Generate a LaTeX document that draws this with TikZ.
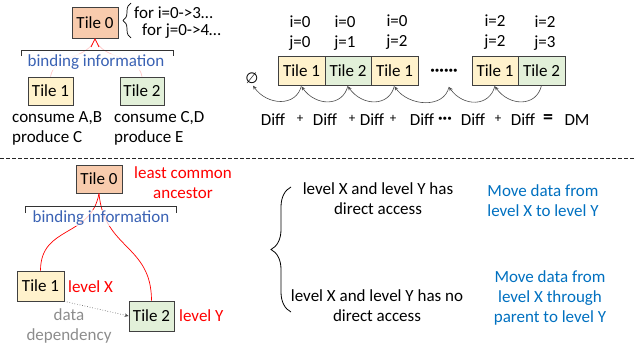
\documentclass[tikz,border=0pt]{standalone}
\usepackage{fontspec}
\setmainfont{Carlito}
\newfontfamily\symfont{DejaVu Sans}
\usetikzlibrary{arrows.meta,decorations.pathreplacing}
\definecolor{peach}{HTML}{F8CBAD}
\definecolor{lightyellow}{HTML}{FFF2CC}
\definecolor{lightgreen}{HTML}{E2F0D9}
\definecolor{bindblue}{HTML}{3A62B4}
\definecolor{moveblue}{HTML}{0070C0}
\definecolor{depgray}{HTML}{8C8C8C}
\tikzset{
  tile/.style={draw=black!75, line width=0.8pt, inner sep=0pt, minimum height=30pt},
  lbl/.style={inner sep=0pt, align=center},
  bind/.style={inner sep=1pt, text=bindblue, fill=white, fill opacity=0.75, text opacity=1},
  hop/.style={draw=black!70, line width=0.6pt, -{Stealth[length=4pt,width=3.5pt]}},
}
\begin{document}
\begin{tikzpicture}[x=1pt, y=-1pt, font=\fontsize{17}{20}\selectfont]
      \useasboundingbox (0,0) rectangle (634,356);
      % upper left: tile tree
      \node[tile, fill=peach, minimum width=46pt, minimum height=31pt] (t0) at (95,23) {Tile 0};
      \node[tile, fill=lightyellow, minimum width=45pt, minimum height=28pt] (t1) at (50.5,91) {Tile 1};
      \node[tile, fill=lightgreen, minimum width=44pt, minimum height=28pt] (t2) at (142,91) {Tile 2};
      \begin{scope}[red!22, line width=0.7pt]
        \draw (t0.south) to[out=-110, in=80] (t1.north);
        \draw (t0.south) to[out=-70, in=100] (t2.north);
      \end{scope}
      \draw[red, line width=0.7pt] (91,47) -- (t0.south) -- (99,47);
      \draw[black!80, line width=0.7pt] (21,56) -- (21,50) -- (173,50) -- (173,56);
      \node[bind] (bind) at (96,62) {binding information};
      \draw[decorate, decoration={brace, amplitude=8pt}, line width=0.7pt] (131,38) -- (131,3);
      \node[lbl, anchor=west] (fori) at (134,13) {for i=0->3…};
      \node[lbl, anchor=west] (forj) at (142,31) {for j=0->4…};
      \node[lbl, anchor=west] (c1) at (12,118) {consume A,B};
      \node[lbl, anchor=west] (p1) at (12,138) {produce C};
      \node[lbl, anchor=west] (c2) at (114,118) {consume C,D};
      \node[lbl, anchor=west] (p2) at (114,138) {produce E};
      % upper right: tile sequence
      \node[tile, fill=lightyellow, minimum width=47pt, minimum height=29pt] (s1) at (301.5,70.5) {Tile 1};
      \node[tile, fill=lightgreen, minimum width=46pt, minimum height=29pt] (s2) at (348,70.5) {Tile 2};
      \node[tile, fill=lightyellow, minimum width=47pt, minimum height=29pt] (s3) at (394.5,70.5) {Tile 1};
      \node[lbl, font=\fontsize{17}{20}\selectfont\bfseries] (dots) at (444,72) {······};
      \node[tile, fill=lightyellow, minimum width=46pt, minimum height=29pt] (s4) at (495,70.5) {Tile 1};
      \node[tile, fill=lightgreen, minimum width=47pt, minimum height=29pt] (s5) at (541.5,70.5) {Tile 2};
      \node[lbl, font=\fontsize{15}{18}\symfont] (empty) at (252,78) {∅};
      \coordinate (dotsb) at (449,87);
      \node[lbl] (ij1) at (300,33) {i=0\\j=0};
      \node[lbl] (ij2) at (345,33) {i=0\\j=1};
      \node[lbl] (ij3) at (397,32) {i=0\\j=2};
      \node[lbl] (ij4) at (495,32) {i=2\\j=2};
      \node[lbl] (ij5) at (545,33) {i=2\\j=3};
      \begin{scope}[hop]
        \draw (s1.south) .. controls +(-5,22) and +(14,20) .. ([xshift=1pt,yshift=-2pt]empty.south);
        \draw (s2.south) .. controls +(-5,22) and +(14,20) .. ([yshift=-1pt]s1.south);
        \draw (s3.south) .. controls +(-5,22) and +(14,20) .. ([yshift=-1pt]s2.south);
        \draw (dotsb) .. controls +(-5,22) and +(14,20) .. ([yshift=-1pt]s3.south);
        \draw (s4.south) .. controls +(-5,22) and +(14,20) .. (dotsb);
        \draw (s5.south) .. controls +(-5,22) and +(14,20) .. ([yshift=-1pt]s4.south);
      \end{scope}
      \node[lbl] (d1) at (273,120) {Diff};
      \node[lbl, font=\fontsize{13}{15}\selectfont] (pl1) at (300,119) {+};
      \node[lbl] (d2) at (325,120) {Diff};
      \node[lbl, font=\fontsize{13}{15}\selectfont] (pl2) at (352,119) {+};
      \node[lbl] (d3) at (372,120) {Diff};
      \node[lbl, font=\fontsize{13}{15}\selectfont] (pl3) at (393,119) {+};
      \node[lbl] (d4) at (422,120) {Diff};
      \node[lbl, font=\fontsize{17}{20}\selectfont\bfseries] (dd) at (445,120) {···};
      \node[lbl] (d5) at (473,120) {Diff};
      \node[lbl, font=\fontsize{13}{15}\selectfont] (pl4) at (498,119) {+};
      \node[lbl] (d6) at (523,120) {Diff};
      \node[lbl, font=\fontsize{20}{22}\selectfont\bfseries] (eq) at (548,119) {=};
      \node[lbl] (dm) at (577,120) {DM};
      % separator
      \draw[black!85, line width=0.7pt, dash pattern=on 3.5pt off 2.5pt] (0,158) -- (634,158);
      % lower left: common ancestor
      \node[tile, fill=peach, minimum width=46pt, minimum height=28pt] (a0) at (99,179) {Tile 0};
      \node[tile, fill=lightyellow, minimum width=47pt, minimum height=30pt] (a1) at (40.5,286) {Tile 1};
      \node[tile, fill=lightgreen, minimum width=45pt, minimum height=30pt] (a2) at (151.5,316) {Tile 2};
      \begin{scope}[red, line width=0.7pt]
        \draw (a0.south) to[out=-100, in=90, looseness=1.2] (a1.north);
        \draw (a0.south) to[out=-85, in=90, looseness=1.2] (a2.north);
      \end{scope}
      \draw[black!80, line width=0.7pt] (25,213) -- (25,206) -- (176,206) -- (176,213);
      \node[bind] (bind2) at (101,218) {binding information};
      \node[lbl, text=red] (lca) at (183,183) {least common\\ancestor};
      \node[lbl, text=red, anchor=west] (lx) at (68,287) {level X};
      \node[lbl, text=red, anchor=west] (ly) at (179,316) {level Y};
      \draw[black!70, line width=0.6pt, dotted, -{Stealth[length=4pt,width=3.5pt]}] (a1.south east) -- (a2.west);
      \node[lbl, text=depgray] (dep) at (69,326) {data\\dependency};
      % lower right: two cases
      \draw[decorate, decoration={brace, amplitude=20pt}, line width=0.8pt] (291,312) -- (291,187);
      \node[lbl] (direct) at (378,199) {level X and level Y has\\direct access};
      \node[lbl] (nodirect) at (377,306) {level X and level Y has no\\direct access};
      \node[lbl, text=moveblue] (move1) at (543,201) {Move data from\\level X to level Y};
      \node[lbl, text=moveblue] (move2) at (550,298) {Move data from\\level X through\\parent to level Y};
    \end{tikzpicture}
\end{document}
